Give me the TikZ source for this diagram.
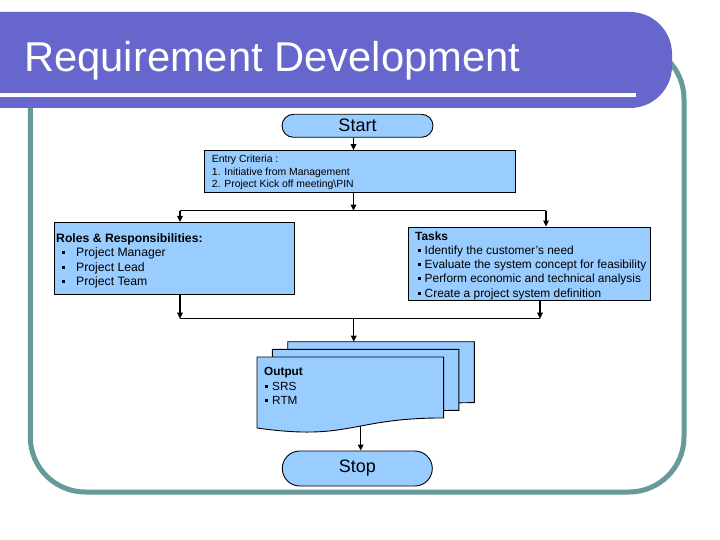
\documentclass[tikz,border=0pt]{standalone}
\usepackage{fontspec}
\setmainfont{Liberation Sans}
\usetikzlibrary{arrows.meta}
\definecolor{bannerc}{RGB}{102,102,204}
\definecolor{framec}{RGB}{102,153,153}
\definecolor{boxc}{RGB}{153,204,255}
\newcommand{\sqbul}{\rule[2.5pt]{3pt}{3pt}}
\begin{document}
\begin{tikzpicture}[x=1pt,y=-1pt,
  box/.style={draw=black,fill=boxc,line width=0.9pt,inner sep=0pt},
  term/.style={box,font=\fontsize{18}{20}\selectfont},
  blocktext/.style={anchor=north west,inner sep=0pt,align=left,text=black},
  conn/.style={draw=black,line width=1.3pt},
  arr/.style={conn,-{Triangle[length=6pt,width=5.5pt]}},
  docshape/.style={draw=black,fill=boxc,line width=0.9pt}]
\useasboundingbox (0,0) rectangle (720,540);
\fill[white] (0,0) rectangle (720,540);
% frame and banner
\draw[framec,line width=5pt,rounded corners=55pt] (30.3,44) rectangle (684,492);
\fill[bannerc,rounded corners=42pt] (-100,12) rectangle (672,108);
\draw[white,line width=4pt] (-5,95) -- (636,95);
\node[anchor=base west,inner sep=0pt,text=white,font=\fontsize{41.7}{46}\selectfont] (title) at (24,72) {Requirement Development};
% start
\node[term,minimum width=151pt,minimum height=23pt,rounded corners=11.5pt] (start) at (357.5,125.8) {Start};
% entry criteria
\node[box,minimum width=311pt,minimum height=41.6pt] (entry) at (359.5,171.5) {};
\node[blocktext,font=\fontsize{10.4}{12.3}\selectfont] (entrytext) at (211.7,154.2) {\rule{0pt}{8.5pt}Entry Criteria :\\1. Initiative from Management\\2. Project Kick off meeting\textbackslash PIN};
% roles
\node[box,minimum width=240.3pt,minimum height=71.5pt] (roles) at (174.3,258.2) {};
\node[blocktext,font=\fontsize{12.2}{14.2}\selectfont] (rolestext) at (56,232.5) {\rule{0pt}{10pt}\textbf{Roles \& Responsibilities:}\\
\makebox[20pt][l]{\hspace{6pt}\sqbul}Project Manager\\
\makebox[20pt][l]{\hspace{6pt}\sqbul}Project Lead\\
\makebox[20pt][l]{\hspace{6pt}\sqbul}Project Team};
% tasks
\node[box,minimum width=242pt,minimum height=73pt] (tasks) at (529,263.5) {};
\node[blocktext,font=\fontsize{11.9}{14.2}\selectfont] (taskstext) at (415,230) {\rule{0pt}{10pt}\textbf{Tasks}\\
\makebox[9.5pt][l]{\hspace{2.5pt}\sqbul}Identify the customer's need\\
\makebox[9.5pt][l]{\hspace{2.5pt}\sqbul}Evaluate the system concept for feasibility\\
\makebox[9.5pt][l]{\hspace{2.5pt}\sqbul}Perform economic and technical analysis\\
\makebox[9.5pt][l]{\hspace{2.5pt}\sqbul}Create a project system definition};
% output multi-document
\path[docshape] (287.7,341.7) -- (474.3,341.7) -- (474.3,402.65) .. controls (381,402.65) and (381,425.9) .. (287.7,412.7) -- cycle;
\path[docshape] (272.3,349.4) -- (458.9,349.4) -- (458.9,410.35) .. controls (365.6,410.35) and (365.6,433.6) .. (272.3,420.4) -- cycle;
\path[docshape] (257,357) -- (443.6,357) -- (443.6,417.95) .. controls (350.3,417.95) and (350.3,441.2) .. (257,428) -- cycle;
\coordinate (outtop) at (353.7,341.7);
\coordinate (outbottom) at (360.7,426);
\node[blocktext,font=\fontsize{11.8}{14.3}\selectfont] (outtext) at (264,365.5) {\rule{0pt}{10pt}\textbf{Output}\\
\makebox[8pt][l]{\hspace{1pt}\sqbul}SRS\\
\makebox[8pt][l]{\hspace{1pt}\sqbul}RTM};
% stop
\node[term,minimum width=150pt,minimum height=35pt,rounded corners=17.5pt] (stop) at (357.3,468.5) {Stop};
% connectors
\coordinate (j1) at (353.5,210.7);
\coordinate (jl) at (180,210.7);
\coordinate (jr) at (546,210.7);
\coordinate (kl) at (180,318.7);
\coordinate (kr) at (540,318.7);
\coordinate (km) at (353.7,318.7);
\draw[arr] (start.south -| j1) -- (entry.north -| j1);
\draw[arr] (entry.south -| j1) -- (j1);
\draw[conn] (jl) -- (jr);
\draw[arr] (jl) -- (roles.north -| jl);
\draw[arr] (jr) -- (tasks.north -| jr);
\draw[arr] (roles.south -| kl) -- (kl);
\draw[arr] (tasks.south -| kr) -- (kr);
\draw[conn] (kl) -- (kr);
\draw[arr] (km) -- (outtop);
\draw[arr] (outbottom) -- (stop.north -| outbottom);
\end{tikzpicture}
\end{document}
